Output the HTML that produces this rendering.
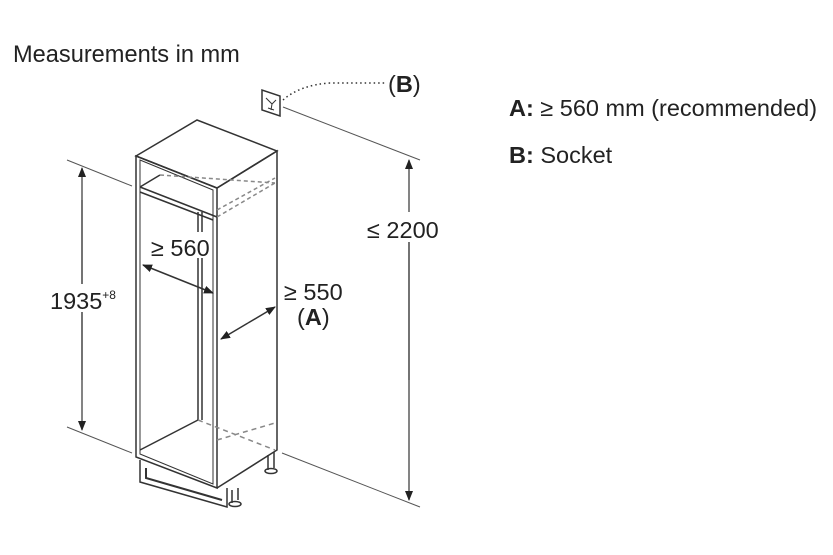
<!DOCTYPE html>
<html><head><style>
body{margin:0;background:#fff;width:833px;height:555px;overflow:hidden;font-family:"Liberation Sans",sans-serif;}
svg{position:absolute;left:0;top:0}
</style></head><body>
<svg width="833" height="555" viewBox="0 0 833 555" font-family="Liberation Sans, sans-serif" fill="#222">
<defs>
<marker id="a" markerWidth="10" markerHeight="8" refX="9" refY="4" orient="auto" markerUnits="userSpaceOnUse"><path d="M0,0 L10,4 L0,8z" fill="#222"/></marker>
</defs>
<text x="13" y="62" font-size="23.6">Measurements in mm</text>
<text x="509" y="116" font-size="23.5"><tspan font-weight="bold">A:</tspan> ≥ 560 mm (recommended)</text>
<text x="509" y="163" font-size="23.5"><tspan font-weight="bold">B:</tspan> Socket</text>
<g stroke="#333" fill="none" stroke-width="1.5">
<path d="M136,156 L197,120 L277,151 L217,188 Z" fill="#fff"/>
<path d="M136,156 L217,188 L217,488 L136,457 Z"/>
<path d="M140,160 L213,190 L213,484 L140,454 Z" stroke-width="1"/>
<path d="M217,188 L277,151 L277,450 L217,488"/>
<path d="M140,187 L217,217 M140,192 L213,220 M140,187 L160,175"/>
<path d="M160,175 L275,183" stroke-dasharray="4,3" stroke="#888"/>
<path d="M217,217 L275,183 M217,210 L275,178" stroke-dasharray="4,3" stroke="#888"/>
<path d="M198,212 L198,420 M202,212 L202,420"/>
<path d="M140,450 L198,420"/>
<path d="M198,420 L275,450 M217,440 L275,423" stroke-dasharray="5,4" stroke="#888"/>
<path d="M140,460 L140,482 L227,507 L227,488"/>
<path d="M146,468 L146,478 L222,500" stroke-width="2"/>
<path d="M232,490 L232,503 M238,488 L238,500 M268,455 L268,470 M274,452 L274,468"/>
<ellipse cx="235" cy="504" rx="6" ry="2.5"/><ellipse cx="271" cy="471" rx="6" ry="2.5"/>
<g stroke="#555" stroke-width="1">
<path d="M67,160 L132,186 M67,427 L132,453 M283,107 L420,160 M282,453 L420,507"/>
</g>
<path d="M82,200 L82,380 M409,220 L409,380" stroke-width="1.2"/>
<path d="M82,280 L82,168" stroke-width="1.2" marker-end="url(#a)"/>
<path d="M82,280 L82,430" stroke-width="1.2" marker-end="url(#a)"/>
<path d="M409,300 L409,160" stroke-width="1.2" marker-end="url(#a)"/>
<path d="M409,300 L409,500" stroke-width="1.2" marker-end="url(#a)"/>
<path d="M178,279 L143,265" stroke-width="1.5" marker-end="url(#a)"/>
<path d="M178,279 L213,293" stroke-width="1.5" marker-end="url(#a)"/>
<path d="M248,323 L221,339" stroke-width="1.5" marker-end="url(#a)"/>
<path d="M248,323 L275,307" stroke-width="1.5" marker-end="url(#a)"/>
<path d="M262,90 L262,110 L280,116 L280,96 Z" stroke-width="1.5"/>
<path d="M266,98 L272,104 L276,100 M272,104 L271,110 M268,108 L274,110" stroke-width="1"/>
<path d="M283,100 Q300,85 330,83 L385,83" stroke-dasharray="1.5,3" stroke-width="1.5"/>
</g>
<g fill="#fff"><rect x="150" y="232" width="62" height="26"/><rect x="50" y="284" width="80" height="28"/><rect x="365" y="212" width="80" height="30"/></g>
<text x="151" y="256" font-size="23.5">≥ 560</text>
<text x="50" y="309" font-size="23.5">1935<tspan font-size="12" dy="-10">+8</tspan></text>
<text x="284" y="300" font-size="23.5">≥ 550</text>
<text x="297" y="325" font-size="23.5">(<tspan font-weight="bold">A</tspan>)</text>
<text x="367" y="238" font-size="23.5">≤ 2200</text>
<text x="388" y="92" font-size="23.5">(<tspan font-weight="bold">B</tspan>)</text>
</svg>
</body></html>
